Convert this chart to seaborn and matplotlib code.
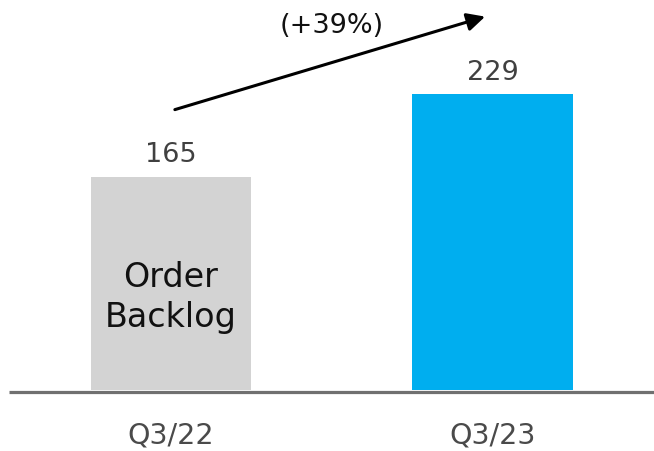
import matplotlib
matplotlib.use("Agg")
import matplotlib.pyplot as plt
import seaborn as sns
import pandas as pd

categories = ["Q3/22", "Q3/23"]
values = [165, 229]
value_labels = ["165", "229"]
bar_colors = ["#D3D3D3", "#00AEEF"]
inner_label = "Order\nBacklog"
growth_label = "(+39%)"

sns.set_theme(style="white")
plt.rcParams["font.family"] = ["DejaVu Sans"]

df = pd.DataFrame({"period": categories, "backlog": values})

W, H = 654, 452
fig = plt.figure(figsize=(W / 100, H / 100), dpi=100)
base_px = 61  # baseline from bottom
ax = fig.add_axes([0, base_px / H, 1, (H - base_px) / H])

sns.barplot(data=df, x="period", y="backlog", hue="period",
            palette=bar_colors, width=0.5, legend=False, ax=ax,
            saturation=1, linewidth=0)

px_per_unit = 1.292
ax.set_ylim(0, (H - base_px) / px_per_unit)
ax.set_xlim(-171 / 321.5, 1 + (654 - 492.5) / 321.5)

for s in ax.spines.values():
    s.set_visible(False)
ax.set_yticks([])
ax.set_xlabel("")
ax.set_ylabel("")
ax.tick_params(axis="x", length=0, pad=22, labelsize=20.5, labelcolor="#4a4a4a")

# baseline
ax.plot([-171 / 321.5 + 9 / 321.5, 1.6], [-1.2, -1.2], color="#707070",
        lw=2.3, clip_on=False, solid_capstyle="butt")

# value labels
for i, (v, lab) in enumerate(zip(values, value_labels)):
    ax.text(i, v + 12, lab, ha="center", va="baseline", fontsize=19.5,
            color="#404040")

# inner label
ax.text(0, values[0] * 0.47 - 5, inner_label, ha="center", va="center",
        fontsize=24, color="#111111", linespacing=1.25)

# growth arrow
ax.annotate("", xy=(0.977, values[1] + 60), xytext=(0.012, values[0] + 52),
            arrowprops=dict(arrowstyle="-|>,head_length=0.9,head_width=0.45",
                            color="black", lw=2.2, shrinkA=0, shrinkB=0),
            annotation_clip=False)
ax.text(0.5, values[1] + 48, growth_label, ha="center", va="baseline",
        fontsize=19.5, color="#111111")

fig.savefig("out.png", dpi=100)
